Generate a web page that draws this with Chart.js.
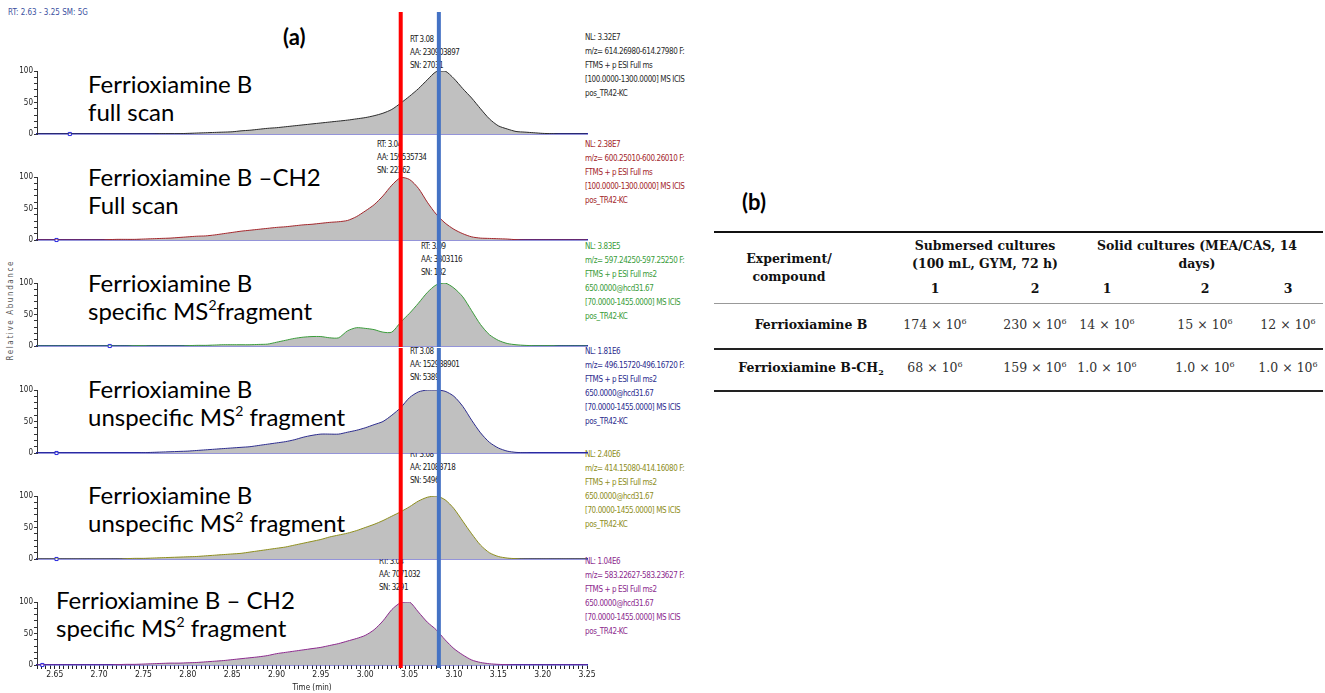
<!DOCTYPE html>
<html>
<head>
<meta charset="utf-8">
<script src="https://cdn.jsdelivr.net/npm/chart.js@4.4.1/dist/chart.umd.min.js"></script>
<style>
  body { margin:0; width:1325px; height:693px; background:#fff; position:relative; overflow:hidden; }
  .t { position:absolute; white-space:nowrap; }
  canvas.panel { position:absolute; left:0; z-index:2; }
  .big { font-family:Lato, sans-serif; font-size:24px; line-height:28px; color:#000; z-index:1; }
  .big sup { font-size:14px; vertical-align:10px; line-height:0; }
  .narrow { font-family:"Liberation Sans Narrow","DejaVu Sans Condensed",sans-serif; }
  .meta { font-size:8px; letter-spacing:-0.4px; line-height:14px; z-index:1; }
  .peak { font-size:8px; letter-spacing:-0.5px; line-height:12.8px; color:#222; z-index:1; }
  .tag { font-family:Lato, sans-serif; font-weight:bold; font-size:22px; }
  .tb { font-family:"DejaVu Serif", serif; font-size:12.5px; line-height:18px; color:#111; transform:translateX(-50%); }
  .tb.b { font-weight:bold; }
  .tb.v { color:#333; }
  .tb sup { font-size:8px; vertical-align:5px; line-height:0; }
  .tb sub { font-size:8px; vertical-align:-3px; line-height:0; }
  .rule { position:absolute; left:714px; width:609px; }
</style>
</head>
<body>
<script>
// retention time grid (min) shared by all six traces
const rt = [2.63,2.64,2.65,2.66,2.67,2.68,2.69,2.70,2.71,2.72,2.73,2.74,2.75,2.76,2.77,2.78,2.79,2.80,2.81,2.82,
  2.83,2.84,2.85,2.86,2.87,2.88,2.89,2.90,2.91,2.92,2.93,2.94,2.95,2.96,2.97,2.98,2.99,3.00,3.01,3.02,
  3.03,3.04,3.05,3.06,3.07,3.08,3.09,3.10,3.11,3.12,3.13,3.14,3.15,3.16,3.17,3.18,3.19,3.20,3.21,3.22,
  3.23,3.24,3.25];

// relative abundance (%) per trace
const fullScanB = [0,0,0,0,0,0,0,0,0,0,0,0,0,0, 0.5,0.5,0.5,1,1.5,2,2.5,3,3.5,
  5,6,7.5,9,10,11.5,13,14.5,16,17.5, 19,20.5,22,24,26,29,33,39,49,60,
  72,86,99,100,88,72,57,40,24,13, 8,4,3,2,1,0.5,0,0,0,0];
const fullScanCH2 = [0,0,0,0,0,0,0,0, 0.5,1,1,1,1.5,2,2.5,3,4,5,
  6,6.5,8,10,12,14,15.5,17,18.5,20, 21,22.5,24,25,26.5,28,29,31,37,46,
  56,70,87,99,96,82,60,41,27,17, 10,5,3,2.5,2,1.5,0.5,0,0,0, 0,0,0,0,0];
const specB = [0,0,0,0,0,0,0,0,0,0,0, 0.5,0.5,0,0,0,0,0.5,1,1,1.5,
  2,2,2,2,2.5,3,6,9,12,14, 15,15,13,13,24,29,28,26,22,22,
  38,52,68,85,97,100,92,78,56,34, 18,9,4,2,1,0.5,0.5,0.5,0,0, 0,0];
const unspecB1 = [0,0,0,0,0,0,0,0,0,0,0,0, 0.5,1,1.5,2,2.5,3,4,5,
  6,7,8,9,10,12,14,16,18,21, 25,28,30,30,30,33,36,40,45,50,
  60,72,88,97,100,100,98,90,74,52, 32,17,8,3,1,0.5,0,0,0,0, 0,0,0];
const unspecB2 = [0,0,0,0,0,0,0,0,0,0, 0.5,1,1,1.5,2,2.5,3,3.5,4,5,
  6,7,8,9,11,13,15,17,19,22, 25,28,31,35,38,41,45,50,55,61,
  68,75,83,92,98,100,94,80,60,40, 22,10,4,1.5,0.5,0,0,0,0,0, 0,0,0];
const specCH2 = [0,0,0,0,0,0,0,0,0, 0.5,1,1,1.5,2,2.5,3,3,3.5,4,
  5,6,7,8.5,10,11.5,13,15,18,20, 22,24,26,28,31,34,38,42,47,56,
  70,88,99,100,84,68,56,40,26,16, 8,4,2,1,0.5,0,0,0,0,0, 0,0,0,0];

const traces = [fullScanB, fullScanCH2, specB, unspecB1, unspecB2, specCH2];
const traceColors = ['#2a2a2a', '#a3262b', '#3a9c3a', '#2c2c8e', '#8e8e1c', '#8c2a8e'];
const markerRT = [2.667, 2.652, 2.712, 2.652, 2.652, 2.636];   // small blue boxes on the baseline
const redRT = 3.04, blueRT = 3.083;

const bigLabels = [
  ['Ferrioxiamine B', 'full scan'],
  ['Ferrioxiamine B \u2013CH2', 'Full scan'],
  ['Ferrioxiamine B', 'specific MS<sup>2</sup>fragment'],
  ['Ferrioxiamine B', 'unspecific MS<sup>2</sup> fragment'],
  ['Ferrioxiamine B', 'unspecific MS<sup>2</sup> fragment'],
  ['Ferrioxiamine B \u2013 CH2', 'specific MS<sup>2</sup> fragment']
];
const peakInfo = [
  ['RT 3.08', 'AA: 230903897', 'SN: 27031'],
  ['RT: 3.04', 'AA: 159535734', 'SN: 22362'],
  ['RT: 3.09', 'AA: 3303116', 'SN: 182'],
  ['RT 3.08', 'AA: 152938901', 'SN: 5389'],
  ['RT 3.08', 'AA: 21083718', 'SN: 5496'],
  ['RT: 3.04', 'AA: 7071032', 'SN: 3291']
];
const ms2 = ['FTMS + p ESI Full ms2', '650.0000@hcd31.67', '[70.0000-1455.0000] MS  ICIS', 'pos_TR42-KC'];
const ms1 = ['FTMS + p ESI Full ms', '[100.0000-1300.0000] MS  ICIS', 'pos_TR42-KC'];
const scanInfo = [
  ['NL: 3.32E7', 'm/z= 614.26980-614.27980 F:'].concat(ms1),
  ['NL: 2.38E7', 'm/z= 600.25010-600.26010 F:'].concat(ms1),
  ['NL: 3.83E5', 'm/z= 597.24250-597.25250 F:'].concat(ms2),
  ['NL: 1.81E6', 'm/z= 496.15720-496.16720 F:'].concat(ms2),
  ['NL: 2.40E6', 'm/z= 414.15080-414.16080 F:'].concat(ms2),
  ['NL: 1.04E6', 'm/z= 583.22627-583.23627 F:'].concat(ms2)
];

// table (b): peak areas, x 10^6
const tableRows = ['Ferrioxiamine B', 'Ferrioxiamine B-CH<sub>2</sub>'];
const submersed = [['174', '230'], ['68', '159']];
const solid = [['14', '15', '12'], ['1.0', '1.0', '1.0']];

// ---- layout ----
const zeroY = [134, 240, 346, 453, 559, 665];
const labelPos = [[88, 84], [88, 177], [88, 283], [88, 389], [88, 495], [56, 600]];
const peakPos = [[410, 40], [377, 145], [421, 247], [410, 352], [410, 455], [379, 562]];
const metaTop = [38, 145, 247, 352, 455, 562];
const baseH = 7;   // room under the zero line for the "0" label overflow

function addText(html, cls, x, y, extra) {
  const d = document.createElement('div');
  d.className = 't ' + cls;
  d.innerHTML = html;
  d.style.left = x + 'px';
  d.style.top = y + 'px';
  if (extra) Object.assign(d.style, extra);
  document.body.appendChild(d);
  return d;
}

Chart.defaults.font.family = '"Liberation Sans Narrow","DejaVu Sans Condensed",sans-serif';
Chart.defaults.color = '#222';

const rtLines = {
  id: 'rtLines',
  afterDraw(chart, args, opts) {
    const { ctx, scales: { x } } = chart;
    const top = opts.top || 0, bottom = opts.bottom;
    ctx.save();
    ctx.fillStyle = '#ff0000';
    ctx.fillRect(x.getPixelForValue(redRT) - 2, top, 4, bottom - top);
    ctx.fillStyle = '#4472c4';
    ctx.fillRect(x.getPixelForValue(blueRT) - 2, top, 4, bottom - top);
    ctx.restore();
  }
};

traces.forEach((vals, k) => {
  const last = k === traces.length - 1;
  const top = k === 0 ? 0 : zeroY[k] - 105;
  const padTop = zeroY[k] - 63 - top;
  const h = last ? 693 - top : zeroY[k] + baseH - top;
  const cv = document.createElement('canvas');
  cv.className = 'panel';
  cv.width = 600; cv.height = h;
  cv.style.top = top + 'px';
  document.body.appendChild(cv);

  new Chart(cv, {
    type: 'line',
    data: {
      datasets: [
        { data: rt.map((t, i) => ({ x: t, y: vals[i] })), borderColor: traceColors[k], borderWidth: 1,
          backgroundColor: '#c0c0c0', fill: 'origin', pointRadius: 0, tension: 0.25 },
        { type: 'scatter', data: [{ x: markerRT[k], y: 0 }], pointStyle: 'rect', pointRadius: 2.2,
          borderColor: '#2828e0', backgroundColor: '#fff', borderWidth: 1, clip: false }
      ]
    },
    options: {
      responsive: false, animation: false,
      layout: { padding: { top: padTop, right: 13, left: 0, bottom: 0 } },
      plugins: { legend: { display: false }, tooltip: { enabled: false },
        rtLines: { top: k === 0 ? 12 : 0, bottom: last ? (zeroY[k] - top + 3) : (zeroY[k] + 1 - top) } },
      scales: {
        x: {
          type: 'linear', min: 2.63, max: 3.25, z: 1,
          border: { display: true, color: '#2a2ab4', width: 1.5 },
          grid: { display: last, drawOnChartArea: false, tickLength: 4, color: '#222' },
          ticks: { display: last, stepSize: 0.005, maxTicksLimit: 300, autoSkip: false, maxRotation: 0,
            padding: 1, font: { size: 8.5 },
            callback: v => (Math.round(v * 1000) % 50 === 0 ? v.toFixed(2) : '') },
          title: { display: last, text: 'Time (min)', font: { size: 8 }, padding: { top: 0, bottom: 0 } },
          afterFit: s => { s.height = last ? 28 : baseH; }
        },
        y: {
          min: 0, max: 100,
          border: { display: true, color: '#333' },
          grid: { display: true, drawOnChartArea: false, tickLength: 3, color: '#333' },
          ticks: { stepSize: 10, autoSkip: false, padding: 1, font: { size: 8 },
            callback: v => (v % 50 === 0 ? String(v) : '') },
          afterFit: s => { s.width = 37; }
        }
      }
    },
    plugins: [rtLines]
  });

  // panel texts (under the canvas so the RT lines cover them)
  const [lx, ly] = labelPos[k];
  addText(bigLabels[k][0], 'big', lx, ly - 14);
  addText(bigLabels[k][1], 'big', lx, ly + 14);
  const [px, py] = peakPos[k];
  peakInfo[k].forEach((s, j) => addText(s, 'narrow peak', px, py - 6 + j * 12.8));
  scanInfo[k].forEach((s, j) => addText(s, 'narrow meta', 585, metaTop[k] - 7 + j * 14, { color: traceColors[k] }));
});

addText('RT: 2.63 - 3.25  SM: 5G', 'narrow', 8, 8, { fontSize: '8px', color: '#3b4fa0' });
addText('(a)', 'tag', 283, 23);
addText('Relative Abundance', 'narrow', -30, 316,
  { fontSize: '8px', letterSpacing: '1.6px', color: '#555', transform: 'rotate(-90deg)', transformOrigin: '50% 50%', width: '80px', textAlign: 'center' });

// ---- table (b) ----
addText('(b)', 'tag', 742, 188);
[[231, 2, '#111'], [303, 1, '#999'], [348, 2, '#222'], [390, 2, '#222']].forEach(([y, w, c]) => {
  const r = document.createElement('div');
  r.className = 'rule';
  r.style.top = y + 'px'; r.style.height = w + 'px'; r.style.background = c;
  document.body.appendChild(r);
});
const colX = [935, 1035, 1107, 1205, 1288];
addText('Experiment/', 'tb b', 789, 250);
addText('compound', 'tb b', 789, 268);
addText('Submersed cultures', 'tb b', 985, 237);
addText('(100 mL, GYM, 72 h)', 'tb b', 985, 255);
addText('Solid cultures (MEA/CAS, 14', 'tb b', 1197, 237);
addText('days)', 'tb b', 1197, 255);
['1', '2', '1', '2', '3'].forEach((s, i) => addText(s, 'tb b', colX[i], 280));
[325, 368].forEach((y, r) => {
  addText(tableRows[r], 'tb b', 811, y - 9);
  submersed[r].concat(solid[r]).forEach((m, i) => addText(m + ' \u00d7 10<sup>6</sup>', 'tb v', colX[i], y - 9));
});
</script>
</body>
</html>
